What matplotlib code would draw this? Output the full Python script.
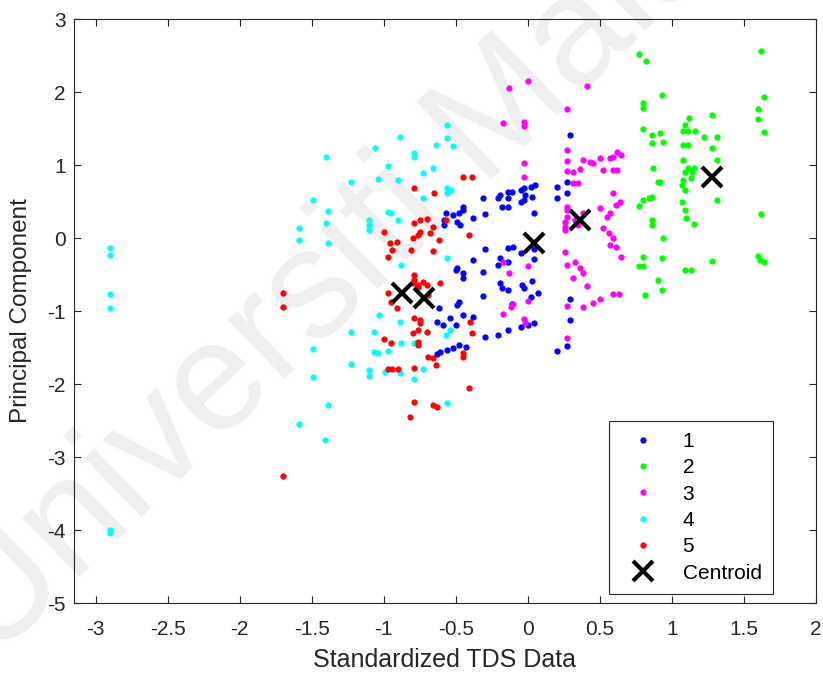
import numpy as np
import matplotlib
matplotlib.use('Agg')
import matplotlib.pyplot as plt

plt.rcParams['font.family'] = ['Liberation Sans', 'DejaVu Sans']

# cluster 1 (blue)
c1_x = [0.29, 0.27, 0.27, 0.20, 0.20, 0.05, 0.02, -0.03, -0.05, -0.02, 0.03, -0.05, -0.03,
        -0.11, -0.14, -0.19, -0.21, -0.14, -0.18, -0.14, -0.31, -0.30, 0.04, -0.45, -0.38, -0.48,
        -0.57, -0.58, -0.58, -0.52, -0.45, -0.49, -0.47,
        0.04, -0.05, -0.14, -0.10, -0.30, -0.38, -0.21, -0.19, -0.14, 0.04,
        -0.31, -0.45, -0.45, -0.50, -0.49,
        -0.19, -0.18, -0.14, -0.04, -0.03, 0.03, 0.07, 0.02, -0.11, -0.31,
        -0.45, -0.38, -0.30, -0.21, -0.14, -0.05, 0.00, 0.04,
        0.29, 0.29, 0.27, 0.20,
        -0.62, -0.49, -0.48, -0.63, -0.59, -0.54, -0.50,
        -0.48, -0.43, -0.56, -0.61, -0.63, -0.52]
c1_y = [1.41, 0.77, 0.62, 0.70, 0.55, 0.73, 0.70, 0.68, 0.66, 0.59, 0.56, 0.49, 0.52,
        0.63, 0.63, 0.59, 0.55, 0.55, 0.42, 0.42, 0.55, 0.33, 0.34, 0.42, 0.27, 0.34,
        0.34, 0.25, 0.18, 0.32, 0.38, 0.22, 0.18,
        -0.15, -0.21, -0.14, -0.12, -0.15, -0.30, -0.37, -0.27, -0.33, -0.29,
        -0.47, -0.48, -0.55, -0.44, -0.41,
        -0.62, -0.68, -0.71, -0.64, -0.68, -0.59, -0.75, -0.81, -0.90, -0.79,
        -1.05, -1.08, -1.36, -1.33, -1.26, -1.22, -1.19, -1.16,
        -0.84, -1.12, -1.48, -1.55,
        -0.96, -0.92, -0.88, -1.15, -1.19, -1.10, -1.19,
        -1.47, -1.49, -1.53, -1.56, -1.59, -1.51]

# cluster 2 (green)
c2_x = [0.77, 0.82, 1.62, 0.93, 0.80, 0.80, 1.64, 1.60, 1.60, 1.64,
        1.12, 1.09, 1.08, 1.28, 0.80, 0.92, 0.86, 0.86, 0.94,
        1.11, 1.16, 1.22, 1.31, 1.08, 1.11, 1.28, 1.08, 1.31,
        0.87, 1.09, 1.11, 1.15, 1.14, 1.08, 1.07, 1.13, 1.09, 0.92, 0.90,
        1.31, 0.80, 0.84, 0.86, 0.77, 1.07, 1.09, 1.10, 1.15, 0.86, 0.86, 0.94,
        1.62, 0.80, 0.77, 0.80, 0.93, 1.28, 1.09, 1.13, 1.60, 1.61, 1.64,
        0.90, 0.93, 0.81]
c2_y = [2.52, 2.42, 2.56, 1.96, 1.85, 1.78, 1.93, 1.77, 1.63, 1.45,
        1.64, 1.55, 1.47, 1.68, 1.49, 1.44, 1.41, 1.30, 1.32,
        1.47, 1.47, 1.38, 1.38, 1.27, 1.27, 1.23, 1.07, 1.07,
        0.96, 0.90, 0.96, 0.96, 0.90, 0.79, 0.73, 0.82, 0.66, 0.77, 0.77,
        0.52, 0.52, 0.55, 0.56, 0.44, 0.49, 0.38, 0.27, 0.19, 0.25, 0.18, 0.00,
        0.33, -0.26, -0.38, -0.38, -0.27, -0.32, -0.44, -0.44, -0.25, -0.30, -0.33,
        -0.58, -0.71, -0.78]

# cluster 3 (magenta)
c3_x = [-0.13, 0.00, 0.41, -0.17, -0.03, -0.03, 0.27,
        -0.03, 0.27, 0.27, 0.27, -0.03,
        0.31, 0.35, 0.38, 0.43, 0.36, 0.31, 0.45,
        0.50, 0.57, 0.62, 0.59, 0.65, 0.52, 0.59, 0.62,
        0.59, 0.27, 0.27, 0.50, 0.55, 0.57, 0.61, 0.64, 0.52,
        0.27, 0.26, 0.26, 0.33, 0.38, 0.35, 0.26,
        0.59, 0.56, 0.57, 0.61, 0.65,
        0.26, 0.33, 0.27, 0.36, 0.38, 0.31, 0.41,
        0.27, 0.38, 0.45, 0.50, 0.59, 0.63, 0.27,
        -0.17, -0.13, 0.00, 0.00, -0.12, -0.17, -0.03, -0.02, -0.10]
c3_y = [2.05, 2.15, 2.08, 1.57, 1.59, 1.53, 1.77,
        1.03, 1.21, 1.05, 0.92, 0.84,
        0.75, 0.75, 1.07, 1.04, 0.95, 0.90, 1.03,
        1.10, 1.10, 1.18, 1.11, 1.14, 0.93, 0.93, 0.93,
        0.62, 0.42, 0.29, 0.41, 0.29, 0.34, 0.45, 0.49, 0.14,
        0.38, 0.22, 0.11, 0.25, 0.34, 0.18, 0.15,
        0.00, 0.07, -0.10, -0.12, -0.26,
        -0.19, -0.33, -0.37, -0.41, -0.48, -0.55, -0.66,
        -0.93, -0.95, -0.89, -0.84, -0.77, -0.77, -1.37,
        -0.33, -0.48, -0.38, -0.86, -0.95, -1.04, -1.11, -1.16, -0.90]

# cluster 4 (cyan)
c4_x = [-2.90, -2.90, -2.90, -2.90, -2.90, -2.90,
        -1.40, -1.23, -1.49, -1.39, -1.40, -1.59, -1.59, -1.39,
        -1.23, -1.49, -1.49, -1.23, -1.39, -1.59, -1.41,
        -0.56, -0.89, -1.06, -0.79, -0.79, -0.64, -0.56, -0.52,
        -0.97, -0.90, -1.04, -0.73, -0.66, -0.56, -0.53, -0.56, -0.73,
        -0.97, -0.95, -0.90, -1.10, -1.10, -1.10, -0.56, -0.88,
        -1.07, -1.03, -0.89, -1.07, -1.04, -0.97, -0.88, -1.10, -1.10,
        -0.99, -0.89, -0.79, -0.73, -0.79, -0.56, -0.54, -0.57]
c4_y = [-0.14, -0.23, -0.77, -0.96, -4.00, -4.04,
        1.11, 0.77, 0.52, 0.37, 0.21, 0.14, -0.03, -0.07,
        -1.29, -1.52, -1.90, -1.73, -2.29, -2.55, -2.77,
        1.55, 1.38, 1.23, 1.16, 1.11, 1.27, 1.37, 1.26,
        0.99, 0.79, 0.81, 0.89, 0.96, 0.68, 0.66, 0.62, 0.55,
        0.36, 0.34, 0.25, 0.25, 0.18, 0.11, -0.27, -0.37,
        -1.29, -1.05, -1.15, -1.56, -1.58, -1.55, -1.44, -1.81, -1.89,
        -1.84, -1.85, -1.93, -1.80, -1.44, -2.26, -1.26, -1.33]

# cluster 5 (red)
c5_x = [-1.70, -1.70, -1.70,
        -0.45, -0.39, -0.65, -0.79,
        -0.75, -0.70, -0.79, -1.00, -0.80, -0.76, -0.75, -0.68, -0.66, -0.62,
        -0.96, -0.94, -0.91, -0.97, -0.81, -0.66, -0.57, -0.41,
        -0.79, -0.79, -0.76, -0.73, -0.61,
        -0.97, -0.95, -0.91, -0.80, -0.76, -0.70, -0.69,
        -0.79, -0.75, -0.75, -0.80, -0.76, -0.70, -0.76, -0.76,
        -1.00, -0.95, -0.69, -0.66, -0.64,
        -0.97, -0.94, -0.90, -0.79,
        -0.45, -0.45, -0.39, -0.40,
        -0.41, -0.79, -0.66, -0.63, -0.82]
c5_y = [-0.75, -0.94, -3.26,
        0.83, 0.83, 0.62, 0.68,
        0.25, 0.26, 0.21, 0.08, 0.00, 0.04, 0.08, 0.07, 0.15, -0.03,
        -0.07, -0.16, -0.05, -0.26, -0.16, -0.18, 0.25, 0.04,
        -0.51, -0.58, -0.67, -0.60, -0.62,
        -0.75, -0.88, -0.96, -0.62, -0.64, -0.64, -0.78,
        -1.10, -1.12, -1.16, -1.30, -1.26, -1.29, -1.42, -1.47,
        -1.38, -1.44, -1.63, -1.64, -1.74,
        -1.79, -1.79, -1.79, -1.78,
        -1.63, -1.58, -1.30, -1.15,
        -2.05, -2.25, -2.29, -2.32, -2.45]

# centroids
cen_x = [0.04, 1.28, 0.36, -0.87, -0.72]
cen_y = [-0.07, 0.84, 0.25, -0.75, -0.82]

cluster_labels = ['1', '2', '3', '4', '5']
cols = ['#0000ff', '#00ff00', '#ff00ff', '#00ffff', '#ff0000']

fig = plt.figure(figsize=(8.23, 6.79), dpi=100)
ax = fig.add_axes([0.0899, 0.1119, 0.9016, 0.8601])
ax.patch.set_alpha(0)

# faint watermark, kept behind the points (runs off the page like the original)
ax.text(-0.01, 0.025, 'Universiti Malaya', transform=fig.transFigure, fontsize=112,
        color='#efefef', rotation=44, rotation_mode='anchor', ha='left', va='baseline',
        zorder=0, clip_on=False)

xs = [c1_x, c2_x, c3_x, c4_x, c5_x]
ys = [c1_y, c2_y, c3_y, c4_y, c5_y]
for x, y, c, lab in zip(xs, ys, cols, cluster_labels):
    ax.plot(x, y, '.', color=c, ms=7, label=lab, ls='none', zorder=3)

ax.plot(cen_x, cen_y, 'x', color='k', ms=14, mew=3, ls='none', label='Centroid', zorder=4)

ax.set_xlim(-3.15, 2)
ax.set_ylim(-5, 3)
ax.set_xticks([-3, -2.5, -2, -1.5, -1, -0.5, 0, 0.5, 1, 1.5, 2])
ax.set_xticklabels(['-3', '-2.5', '-2', '-1.5', '-1', '-0.5', '0', '0.5', '1', '1.5', '2'])
ax.set_yticks([-5, -4, -3, -2, -1, 0, 1, 2, 3])
ax.set_yticklabels(['-5', '-4', '-3', '-2', '-1', '0', '1', '2', '3'])
ax.tick_params(direction='in', top=True, right=True, labelsize=15, length=5, colors='#262626')
ax.tick_params(axis='x', pad=12)
ax.tick_params(axis='y', pad=6)
for s in ax.spines.values():
    s.set_color('#262626')
    s.set_linewidth(0.8)

ax.set_xlabel('Standardized TDS Data', size=18, color='#262626', labelpad=7)
ax.set_ylabel('Principal Component', size=17.5, color='#262626', labelpad=11)

leg = ax.legend(loc='lower right', bbox_to_anchor=(0.942, 0.0154), borderaxespad=0,
                fontsize=15, fancybox=False, framealpha=1, edgecolor='#262626',
                borderpad=0.55, handlelength=2.2, handletextpad=0.8, labelspacing=0.35)
leg.get_frame().set_linewidth(0.8)

plt.savefig('out.png', dpi=100)
